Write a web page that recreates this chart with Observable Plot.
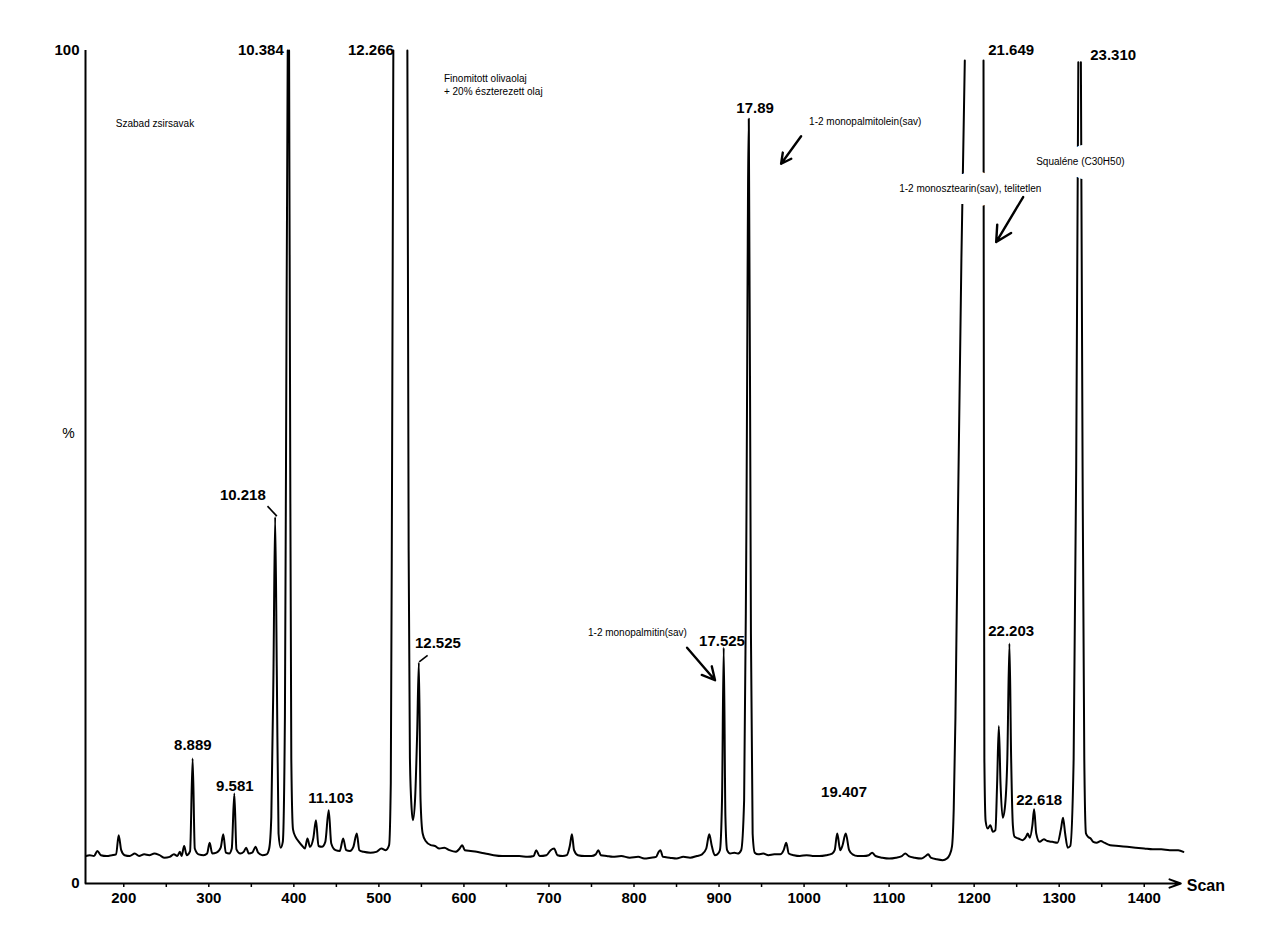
<!DOCTYPE html>
<html>
<head>
<meta charset="utf-8">
<script src="https://cdn.jsdelivr.net/npm/d3@7"></script>
<script src="https://cdn.jsdelivr.net/npm/@observablehq/plot@0.6"></script>
<style>
  html, body { margin: 0; padding: 0; background: #fff; }
  #chart { width: 1261px; height: 951px; }
</style>
</head>
<body>
<div id="chart"></div>
<script>
// ---- Chromatogram trace (scan number, relative abundance %) ----
// null = signal off scale (above 100 %)
const traceScan = [
  155.5,160,165,169,173,180,186,191,194,197,201,207,213,218,224,230,236,242,248,254,259,263,266,268,271,274,278,281,283.5,288,
  294,298,301,304,309,314,317,320,324,327,330,332.5,337,341,344,347,351,355,358,363,368,371,373.5,376,378,380,382,384.5,387,389.5,
  391.5,392.8,393.6,394.4,395.5,397,399,402,406,410,413,416,419,423,426,429,433,437,441,444,449,454,458,461.5,466,470,474,477,482,490,
  497,503,508,512,514,515.5,517,525,533.5,535,536.5,538.5,540,542.5,545,547,549,551.5,555,561,566,571,577,583,590,595,598,601,
  608,615,625,635,645,655,665,675,682,685,689,697,702,706,710,716,721,724.5,727,729.5,734,742,750,755,758,761,768,775,785,795,
  805,812,820,826,829,831,834,842,850,858,866,874,880,885,888.5,891.5,895,898,901,903.5,905.5,907.5,909.5,913,918,922,926,929.5,932,935,
  937.5,939.5,942,946,952,958,965,972,976,979,982,988,995,1003,1010,1018,1026,1033,1036,1039,1042.5,1045,1049,1053,1057,1063,1070,1076,1080,1084,
  1092,1100,1108,1115,1119,1123,1130,1138,1143,1146,1149,1156,1163,1168,1171,1174,1176,1178,1181,1185,1189,1200,1211,1211.5,1212,1213.5,1216,1219,1222,1225,
  1227,1229,1231,1233.5,1236,1239,1241.5,1243.5,1245.5,1247.5,1252,1257,1261,1263,1265.5,1268.5,1270.5,1273,1277,1282,1286,1292,1298,1302,1304.5,1307,1310,1313,1317,1320,
  1322.5,1324,1325.5,1327.5,1329.5,1331.5,1334,1337,1340,1344,1349,1353,1360,1370,1380,1390,1400,1410,1420,1430,1440,1446
];
const tracePct = [
  3.3,3.4,3.3,3.9,3.4,3.3,3.4,3.5,5.8,4.0,3.4,3.3,3.6,3.3,3.5,3.4,3.6,3.4,3.1,3.2,3.5,3.3,3.8,3.3,4.5,3.4,3.9,15.0,4.2,3.5,
  3.4,3.6,4.9,3.6,3.7,4.3,5.9,3.7,3.6,4.2,10.8,4.1,3.6,3.8,4.3,3.6,3.7,4.4,3.7,3.4,3.5,4.2,8,25,44.0,25,6,4.3,5,20,
  70,100,null,100,60,15,6.5,5.6,5.0,4.5,4.2,5.4,4.4,5.5,7.6,4.5,4.4,5.0,8.8,4.8,4.0,3.9,5.4,4.0,3.9,4.4,6.0,4.0,3.8,3.7,
  3.8,4.2,4.0,4.6,12,50,100,null,100,40,15,9,7.6,10,18,26.5,10,6,5.1,4.6,4.5,4.2,4.3,4.0,3.8,4.2,4.6,4.0,
  3.9,3.8,3.6,3.4,3.3,3.3,3.3,3.2,3.3,4.0,3.3,3.4,4.0,4.2,3.4,3.3,3.4,4.5,5.9,4.0,3.4,3.3,3.3,3.5,4.0,3.4,3.3,3.2,3.3,3.1,
  3.2,3.0,3.1,3.2,3.8,4.0,3.2,3.1,3.0,3.2,3.1,3.3,3.5,4.2,5.9,4.5,3.4,3.5,4.0,10,28.3,8,4.0,3.6,3.7,3.6,4,10,40,91.8,
  30,6,3.7,3.5,3.6,3.4,3.5,3.5,4.0,4.9,3.6,3.4,3.3,3.4,3.3,3.3,3.4,3.6,4.0,6.0,4.0,4.5,6.0,4.0,3.5,3.3,3.3,3.4,3.7,3.3,
  3.1,3.0,3.1,3.3,3.6,3.3,3.1,3.0,3.3,3.5,3.1,2.9,2.8,3.0,3.4,4.5,9,20,45,75,98.8,null,98.8,50,15,7.5,6.6,7.0,6.2,6.4,
  12,18.9,12,7.9,9,15,28.8,15,7,5.6,5.4,5.2,5.6,6.0,5.5,7,8.9,6,5.0,5.3,5.1,5.0,4.9,6.5,7.9,6,4.3,4.5,15,50,
  98.6,null,98.6,50,15,6.0,5.6,5.4,5.0,4.9,5.1,4.9,4.6,4.5,4.4,4.3,4.2,4.1,4.1,4.0,4.0,3.8
];

// ---- Axes ----
const xDomain = [155, 1445];
const xArrowEnd = 1443;
const xTicks = [200, 300, 400, 500, 600, 700, 800, 900, 1000, 1100, 1200, 1300, 1400];
const xMinorTicks = [200, 250, 300, 350, 400, 450, 500, 550, 600, 650, 700, 750, 800, 850, 900, 950, 1000, 1050, 1100, 1150, 1200, 1250, 1300, 1350, 1400];
const yTicks = [0, 100];
const yLabel = "%";
const xLabel = "Scan";

// ---- Peak retention-time labels (text, scan, %) ----
const peakLabelText = ["10.384","12.266","21.649","23.310","17.89","10.218","8.889","9.581","11.103","12.525","17.525","19.407","22.203","22.618"];
const peakLabelScan = [361.2, 490.6, 1243.5, 1363.5, 942.4, 340.0, 281.2, 330.6, 443.5, 569.4, 903.5, 1047.0, 1243.5, 1276.5];
const peakLabelPct  = [100.0, 100.0, 100.0, 99.4, 93.1, 46.6, 16.6, 11.7, 10.2, 28.9, 29.1, 11.0, 30.3, 10.0];

// ---- Notes (text, scan, %) ----
const noteText = ["Szabad zsirsavak", "Finomitott olivaolaj", "+ 20% észterezett olaj", "1-2 monopalmitolein(sav)", "1-2 monopalmitin(sav)"];
const noteScan = [190.6, 576.5, 576.5, 1005.9, 745.9];
const notePct  = [91.2, 96.6, 95.1, 91.5, 30.1];
const boxedNoteText = ["1-2 monosztearin(sav), telitetlen", "Squaléne (C30H50)"];
const boxedNoteScan = [1111.8, 1272.9];
const boxedNotePct  = [83.4, 86.6];

// ---- Arrows and leader lines (scan, %) ----
const arrowFrom = [[996.5, 89.7], [1257.6, 82.4], [862.4, 28.3]];
const arrowTo   = [[973.0, 86.4], [1225.9, 77.0], [895.3, 24.4]];
const leaderFrom = [[369.0, 45.3], [557.3, 27.4]];
const leaderTo   = [[380.0, 44.1], [547.4, 26.6]];

// ---- build tables ----
const trace = traceScan.map((s, i) => ({scan: s, pct: tracePct[i]}));
const peakLabels = peakLabelText.map((t, i) => ({t, scan: peakLabelScan[i], pct: peakLabelPct[i]}));
const notes = noteText.map((t, i) => ({t, scan: noteScan[i], pct: notePct[i]}));
const boxedNotes = boxedNoteText.map((t, i) => ({t, scan: boxedNoteScan[i], pct: boxedNotePct[i]}));
const arrows = arrowFrom.map((a, i) => ({x1: a[0], y1: a[1], x2: arrowTo[i][0], y2: arrowTo[i][1]}));
const leaders = leaderFrom.map((a, i) => ({x1: a[0], y1: a[1], x2: leaderTo[i][0], y2: leaderTo[i][1]}));
const axisLine = [{x1: xDomain[0], x2: xArrowEnd, y: 0}];

const font = "'Liberation Sans', Arial, Helvetica, sans-serif";

const chart = Plot.plot({
  width: 1261,
  height: 951,
  marginLeft: 85,
  marginRight: 79,
  marginTop: 50,
  marginBottom: 68,
  style: {fontFamily: font, fontSize: "15px", fontWeight: "bold", background: "white", color: "black"},
  x: {domain: xDomain},
  y: {domain: [0, 100]},
  marks: [
    // axes
    Plot.axisX({ticks: xMinorTicks, tickSize: 4, tickFormat: () => "", label: null, strokeWidth: 1.5}),
    Plot.axisX({ticks: xTicks, tickSize: 0, tickPadding: 9, label: null, tickFormat: d => String(d), fontSize: 15, fontWeight: "bold"}),
    Plot.axisY({ticks: yTicks, tickSize: 0, tickPadding: 6, label: null, tickFormat: d => String(d), fontSize: 15, fontWeight: "bold"}),
    Plot.ruleX([xDomain[0]], {y1: 0, y2: 100, strokeWidth: 2}),
    Plot.arrow(axisLine, {x1: "x1", x2: "x2", y1: "y", y2: "y", strokeWidth: 2, headLength: 9, headAngle: 40}),
    Plot.text([yLabel], {x: xDomain[0], y: 54, text: d => d, dx: -17, fontSize: 14, fontWeight: "normal"}),
    Plot.text([xLabel], {x: xArrowEnd, y: 0, text: d => d, dx: 6, dy: 2, textAnchor: "start", fontSize: 16, fontWeight: "bold"}),
    // trace
    Plot.line(trace, {x: "scan", y: "pct", curve: "monotone-x", stroke: "black", strokeWidth: 2}),
    // annotations
    Plot.text(boxedNotes, {x: "scan", y: "pct", text: "t", textAnchor: "start", fontSize: 10, fontWeight: "normal",
      stroke: "white", strokeWidth: 24, fill: "black"}),
    Plot.text(notes, {x: "scan", y: "pct", text: "t", textAnchor: "start", fontSize: 10, fontWeight: "normal"}),
    Plot.text(peakLabels, {x: "scan", y: "pct", text: "t", fontSize: 15, fontWeight: "bold"}),
    Plot.link(leaders, {x1: "x1", y1: "y1", x2: "x2", y2: "y2", strokeWidth: 1.6}),
    Plot.arrow(arrows, {x1: "x1", y1: "y1", x2: "x2", y2: "y2", strokeWidth: 2.4, headLength: 13, headAngle: 55})
  ]
});
document.getElementById("chart").appendChild(chart);
</script>
</body>
</html>
